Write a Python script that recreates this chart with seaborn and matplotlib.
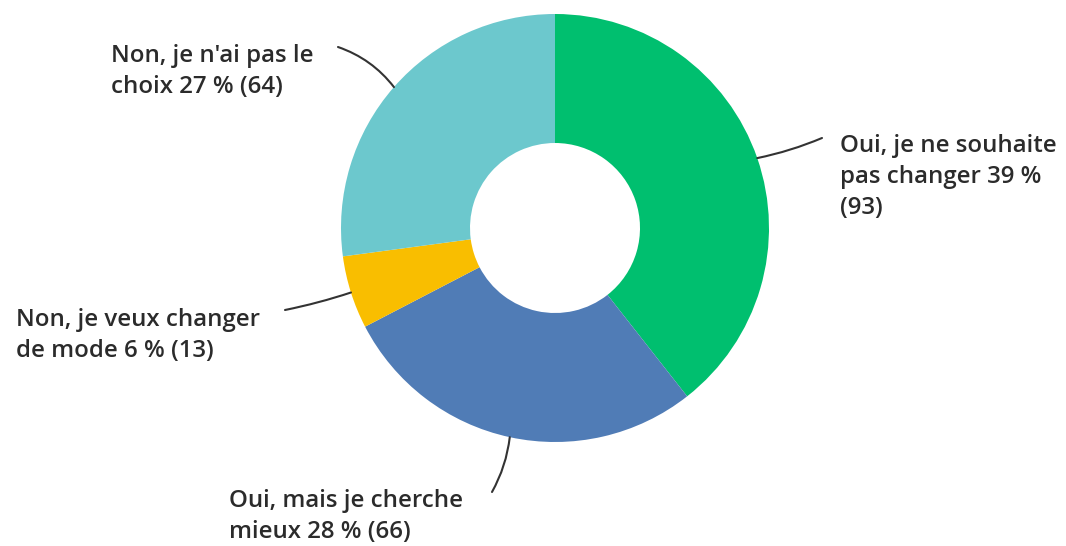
import numpy as np
import matplotlib
matplotlib.use("Agg")
import matplotlib.pyplot as plt
import seaborn as sns

# Survey answers, clockwise from 12 o'clock
labels = [
    "Oui, je ne souhaite\npas changer 39 %\n(93)",
    "Oui, mais je cherche\nmieux 28 % (66)",
    "Non, je veux changer\nde mode 6 % (13)",
    "Non, je n'ai pas le\nchoix 27 % (64)",
]
counts = [93, 66, 13, 64]
colors = ["#00BF6F", "#507CB6", "#F9BE00", "#6CC8CD"]

sns.set_theme(style="white")
plt.rcParams["font.family"] = ["Open Sans", "DejaVu Sans"]

W, H = 1066, 546
fig = plt.figure(figsize=(W / 100, H / 100), dpi=100)
ax = fig.add_axes([0, 0, 1, 1])

cx, cy = 555, H - 228
r_out, r_in = 214, 85

wedges, _ = ax.pie(
    counts,
    colors=sns.color_palette(colors),
    startangle=90,
    counterclock=False,
    center=(cx, cy),
    radius=r_out,
    wedgeprops=dict(width=r_out - r_in, linewidth=0),
)
ax.set_xlim(0, W)
ax.set_ylim(0, H)
ax.set_aspect("equal")
ax.axis("off")

# label placement: (text x, text top y in px from top, line end x, line end y, curvature)
label_pos = [
    (840, 134, 822, 138, 0.05),
    (229, 489, 492, 492, -0.1),
    (16, 308, 285, 310, -0.03),
    (111, 44, 338, 47, 0.15),
]

for w, lab, (tx, ty, lx, ly, rad) in zip(wedges, labels, label_pos):
    ang = np.deg2rad((w.theta1 + w.theta2) / 2)
    sx = cx + r_out * np.cos(ang)
    sy = cy + r_out * np.sin(ang)
    ax.annotate(
        "",
        xy=(lx, H - ly),
        xytext=(sx, sy),
        arrowprops=dict(arrowstyle="-", color="#333333", lw=1.5,
                        connectionstyle=f"arc3,rad={rad}",
                        shrinkA=0, shrinkB=0),
    )
    ax.text(tx, H - ty, lab, ha="left", va="top", fontsize=17.3,
            fontweight="semibold", color="#2b2b2b", linespacing=1.38)

fig.savefig("out.png", dpi=100, facecolor="white")
